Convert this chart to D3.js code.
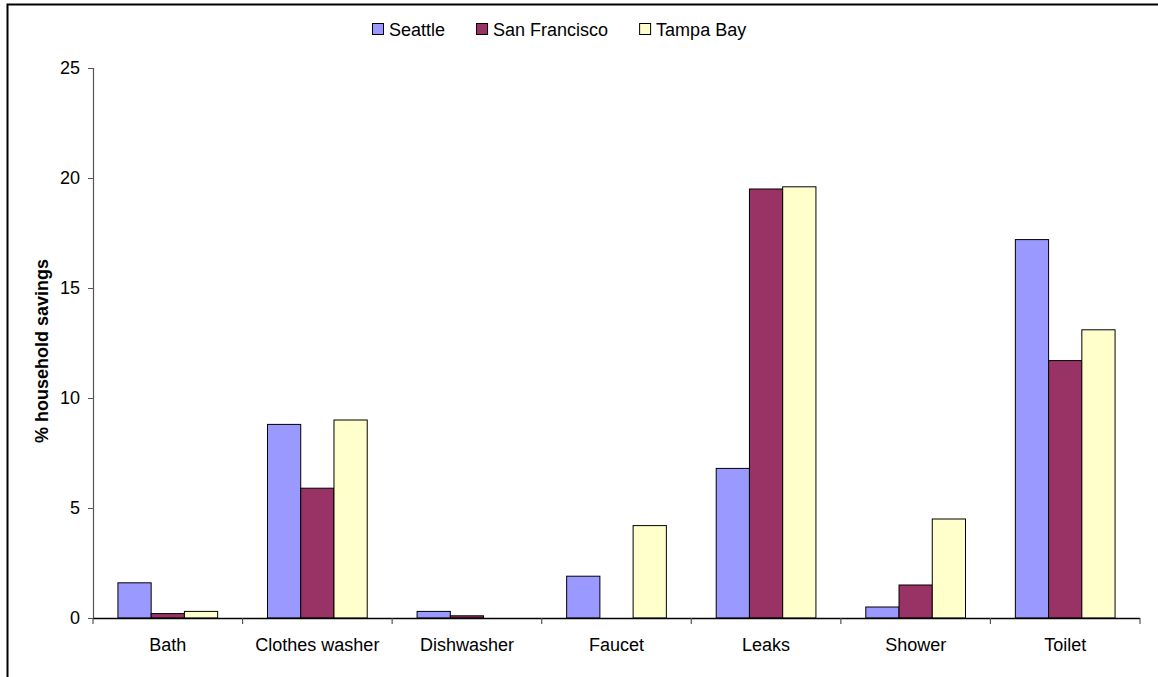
<!DOCTYPE html>
<html>
<head>
<meta charset="utf-8">
<script src="https://cdn.jsdelivr.net/npm/d3@7"></script>
<style>
  html, body { margin: 0; padding: 0; background: #fff; }
  svg { display: block; font-family: "Liberation Sans", Arial, sans-serif; }
</style>
</head>
<body>
<svg id="chart" width="1158" height="677"></svg>
<script>
// Household water savings by end use, three cities
const categories = ["Bath", "Clothes washer", "Dishwasher", "Faucet", "Leaks", "Shower", "Toilet"];
const seriesNames = ["Seattle", "San Francisco", "Tampa Bay"];
const seattle      = [1.6, 8.8, 0.3, 1.9, 6.8, 0.5, 17.2];
const sanFrancisco = [0.2, 5.9, 0.1, 0.0, 19.5, 1.5, 11.7];
const tampaBay     = [0.3, 9.0, 0.0, 4.2, 19.6, 4.5, 13.1];
const yTicks = [0, 5, 10, 15, 20, 25];
const colors = ["#9999FF", "#993366", "#FFFFCC"];

const seriesValues = [seattle, sanFrancisco, tampaBay];

const svg = d3.select("#chart");
const margin = { left: 93, right: 1140, top: 68, bottom: 618 };

// chart frame (only left and top edges fall inside the page)
svg.append("rect")
  .attr("x", 7.5).attr("y", 4.5)
  .attr("width", 1200).attr("height", 720)
  .attr("fill", "none").attr("stroke", "#000").attr("stroke-width", 2);

const x0 = d3.scaleBand()
  .domain(categories)
  .range([margin.left, margin.right])
  .paddingInner(0).paddingOuter(0);

const x1 = d3.scaleBand()
  .domain(seriesNames)
  .range([0, x0.bandwidth()])
  .paddingInner(0)
  .paddingOuter(0.75);

const y = d3.scaleLinear().domain([0, 25]).range([margin.bottom, margin.top]);

// bars
const groups = svg.append("g").selectAll("g")
  .data(categories)
  .join("g")
  .attr("transform", d => `translate(${x0(d)},0)`);

groups.selectAll("rect")
  .data((c, i) => seriesNames.map((s, j) => ({ series: s, idx: j, value: seriesValues[j][i] })))
  .join("rect")
  .filter(d => d.value > 0)
  .attr("x", d => x1(d.series))
  .attr("y", d => y(d.value))
  .attr("width", x1.bandwidth())
  .attr("height", d => y(0) - y(d.value))
  .attr("fill", d => colors[d.idx])
  .attr("stroke", "#000")
  .attr("stroke-width", 1);

// y axis
const yAxis = d3.axisLeft(y).tickValues(yTicks).tickSize(5).tickPadding(8).tickFormat(d3.format("d"));
const yg = svg.append("g").attr("transform", `translate(${margin.left},0)`).call(yAxis);
yg.select(".domain").attr("stroke", "#555").attr("stroke-width", 1.2);
yg.selectAll(".tick line").attr("stroke", "#555");
yg.selectAll("text").attr("font-size", 18).attr("fill", "#000")
  .attr("font-family", "Liberation Sans, Arial, sans-serif");

// x axis: ticks on category boundaries
const xg = svg.append("g").attr("transform", `translate(0,${margin.bottom})`);
xg.append("line")
  .attr("x1", margin.left).attr("x2", margin.right)
  .attr("y1", 0.5).attr("y2", 0.5)
  .attr("stroke", "#000").attr("stroke-width", 1.3);
const boundaries = categories.map(c => x0(c)).concat([x0(categories[categories.length - 1]) + x0.bandwidth()]);
xg.selectAll("line.tick")
  .data(boundaries)
  .join("line")
  .attr("class", "tick")
  .attr("x1", d => d).attr("x2", d => d)
  .attr("y1", 0).attr("y2", 6)
  .attr("stroke", "#555").attr("stroke-width", 1.2);
xg.selectAll("text")
  .data(categories)
  .join("text")
  .attr("x", d => x0(d) + x0.bandwidth() / 2)
  .attr("y", 33)
  .attr("text-anchor", "middle")
  .attr("font-size", 18)
  .text(d => d);

// y axis title
svg.append("text")
  .attr("transform", `translate(48,${(margin.top + margin.bottom) / 2 + 8}) rotate(-90)`)
  .attr("text-anchor", "middle")
  .attr("font-size", 18)
  .attr("font-weight", "bold")
  .text("% household savings");

// legend
const legend = svg.append("g").attr("transform", "translate(372,0)");
let lx = 0;
seriesNames.forEach((name, i) => {
  legend.append("rect")
    .attr("x", lx + 0.5).attr("y", 23.5)
    .attr("width", 11).attr("height", 11)
    .attr("fill", colors[i]).attr("stroke", "#000").attr("stroke-width", 1);
  const t = legend.append("text")
    .attr("x", lx + 17).attr("y", 36)
    .attr("font-size", 18)
    .text(name);
  lx += 17 + t.node().getComputedTextLength() + 31;
});
</script>
</body>
</html>
